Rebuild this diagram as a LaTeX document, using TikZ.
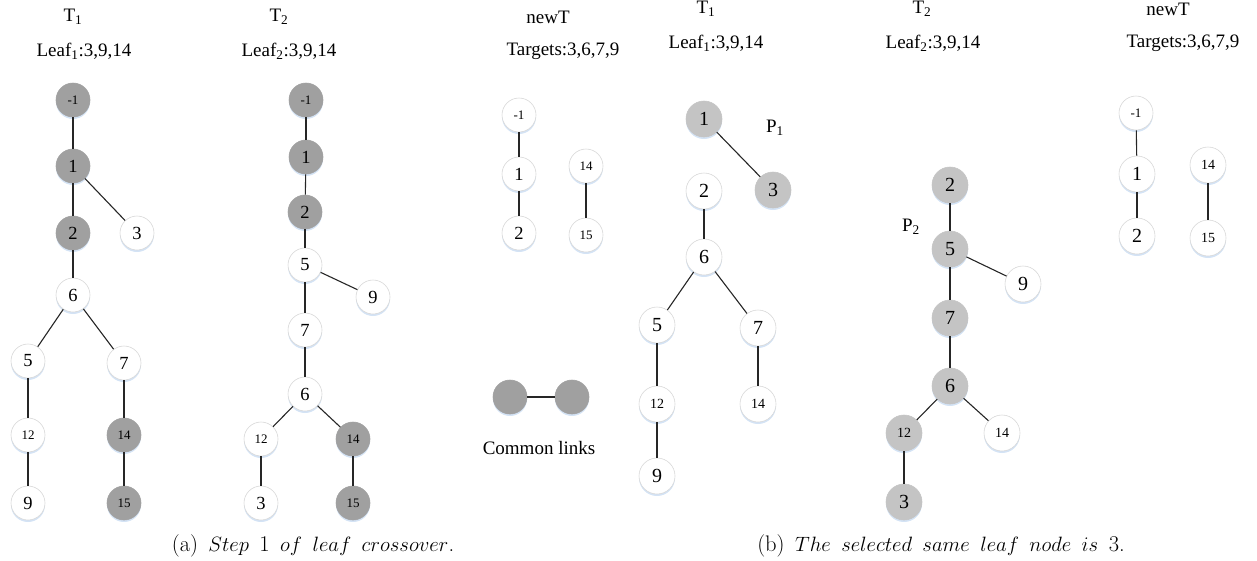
\documentclass[tikz,border=0pt]{standalone}
\usepackage{fontspec}
\newfontfamily\tnr{Liberation Serif}
\usetikzlibrary{shadows}
\definecolor{darknode}{HTML}{A0A0A0}
\definecolor{lightnode}{HTML}{C4C4C4}
\definecolor{ringgray}{HTML}{D8D8D8}
\definecolor{glow}{HTML}{C9DCF2}
\newcommand\wsp{\hspace{10.4pt}}
\tikzset{
  vert/.style={circle, inner sep=0pt, minimum size=34pt, draw=ringgray, line width=0.6pt,
    fill=white, font=\tnr\fontsize{18.5}{18.5}\selectfont,
    drop shadow={shadow xshift=0pt, shadow yshift=-2pt, fill=glow, opacity=0.8}},
  small/.style={font=\tnr\fontsize{13}{13}\selectfont},
  big/.style={minimum size=36pt, font=\tnr\fontsize{20}{20}\selectfont},
  bigsmall/.style={minimum size=36pt, font=\tnr\fontsize{14}{14}\selectfont},
  dark/.style={fill=darknode, draw=darknode},
  light/.style={fill=lightnode, draw=lightnode},
  lbl/.style={font=\tnr\fontsize{19}{19}\selectfont, inner sep=0pt},
  captext/.style={font=\fontsize{22.5}{22.5}\selectfont, inner sep=0pt, anchor=base},
  link/.style={line width=1.1pt, black!85}
}
\begin{document}
\begin{tikzpicture}[x=1pt, y=-1pt]
\useasboundingbox (0,0) rectangle (1257,560);

% ---------- (a) tree T1 ----------
\node[lbl] (aT1) at (73,17) {T\textsubscript{1}};
\node[lbl] (aL1) at (84,51) {Leaf\textsubscript{1}:3,9,14};
\node[vert,dark,small] (a1m) at (73,100) {-1};
\node[vert,dark] (a1a) at (73,166) {1};
\node[vert,dark] (a1b) at (73,233) {2};
\node[vert] (a1c) at (137,233) {3};
\node[vert] (a1f) at (73,295) {6};
\node[vert] (a1e) at (28,361) {5};
\node[vert] (a1g) at (124,363) {7};
\node[vert,small] (a1l) at (28,435) {12};
\node[vert,dark,small] (a1n) at (124,435) {14};
\node[vert] (a1i) at (28,503) {9};
\node[vert,dark,small] (a1o) at (124,503) {15};
\draw[link] (a1m) -- (a1a);
\draw[link] (a1a) -- (a1b);
\draw[link] (a1a) -- (a1c);
\draw[link] (a1b) -- (a1f);
\draw[link] (a1f) -- (a1e);
\draw[link] (a1f) -- (a1g);
\draw[link] (a1e) -- (a1l);
\draw[link] (a1l) -- (a1i);
\draw[link] (a1g) -- (a1n);
\draw[link] (a1n) -- (a1o);

% ---------- (a) tree T2 ----------
\node[lbl] (aT2) at (279,17) {T\textsubscript{2}};
\node[lbl] (aL2) at (289,51) {Leaf\textsubscript{2}:3,9,14};
\node[vert,dark,small] (a2m) at (306,100) {-1};
\node[vert,dark] (a2a) at (306,157) {1};
\node[vert,dark] (a2b) at (305,212) {2};
\node[vert] (a2e) at (305,265) {5};
\node[vert] (a2i) at (373,297) {9};
\node[vert] (a2g) at (305,330) {7};
\node[vert] (a2f) at (305,394) {6};
\node[vert,small] (a2l) at (261,439) {12};
\node[vert,dark,small] (a2n) at (353,439) {14};
\node[vert] (a2c) at (261,503) {3};
\node[vert,dark,small] (a2o) at (353,503) {15};
\draw[link] (a2m) -- (a2a);
\draw[link] (a2a) -- (a2b);
\draw[link] (a2b) -- (a2e);
\draw[link] (a2e) -- (a2i);
\draw[link] (a2e) -- (a2g);
\draw[link] (a2g) -- (a2f);
\draw[link] (a2f) -- (a2l);
\draw[link] (a2f) -- (a2n);
\draw[link] (a2l) -- (a2c);
\draw[link] (a2n) -- (a2o);

% ---------- (a) newT ----------
\node[lbl] (anT) at (548,17) {newT};
\node[lbl] (aTg) at (563,51) {Targets:3,6,7,9};
\node[vert,small] (anm) at (519,115) {-1};
\node[vert] (ana) at (519,174) {1};
\node[vert] (anb) at (519,233) {2};
\node[vert,small] (ann) at (586,166) {14};
\node[vert,small] (ano) at (586,235) {15};
\draw[link] (anm) -- (ana);
\draw[link] (ana) -- (anb);
\draw[link] (ann) -- (ano);

% legend
\node[vert,dark] (lgA) at (510,397) {};
\node[vert,dark] (lgB) at (572,397) {};
\draw[link] (lgA) -- (lgB);
\node[lbl] (lgT) at (539,448) {Common links};

\node[captext] (capA) at (313,551) {(a)\wsp$Step$\wsp1\wsp$of$\wsp$leaf$\wsp$crossover$.};

% ---------- (b) tree T1 ----------
\node[lbl] (bT1) at (706,9) {T\textsubscript{1}};
\node[lbl] (bL1) at (716,43) {Leaf\textsubscript{1}:3,9,14};
\node[vert,big,light] (b1a) at (704,119) {1};
\node[vert,big,light] (b1c) at (773,190) {3};
\node[lbl] (bP1) at (775,128) {P\textsubscript{1}};
\node[vert,big] (b1b) at (704,191) {2};
\node[vert,big] (b1f) at (704,257) {6};
\node[vert,big] (b1e) at (657,325) {5};
\node[vert,big] (b1g) at (758,328) {7};
\node[vert,bigsmall] (b1l) at (657,404) {12};
\node[vert,bigsmall] (b1n) at (758,404) {14};
\node[vert,big] (b1i) at (657,476) {9};
\draw[link] (b1a) -- (b1c);
\draw[link] (b1b) -- (b1f);
\draw[link] (b1f) -- (b1e);
\draw[link] (b1f) -- (b1g);
\draw[link] (b1e) -- (b1l);
\draw[link] (b1l) -- (b1i);
\draw[link] (b1g) -- (b1n);

% ---------- (b) tree T2 ----------
\node[lbl] (bT2) at (922,9) {T\textsubscript{2}};
\node[lbl] (bL2) at (933,43) {Leaf\textsubscript{2}:3,9,14};
\node[vert,big,light] (b2b) at (950,185) {2};
\node[lbl] (bP2) at (911,227) {P\textsubscript{2}};
\node[vert,big,light] (b2e) at (950,249) {5};
\node[vert,big] (b2i) at (1023,284) {9};
\node[vert,big,light] (b2g) at (950,318) {7};
\node[vert,big,light] (b2f) at (950,386) {6};
\node[vert,bigsmall,light] (b2l) at (904,433) {12};
\node[vert,bigsmall] (b2n) at (1002,433) {14};
\node[vert,big,light] (b2c) at (904,502) {3};
\draw[link] (b2b) -- (b2e);
\draw[link] (b2e) -- (b2i);
\draw[link] (b2e) -- (b2g);
\draw[link] (b2g) -- (b2f);
\draw[link] (b2f) -- (b2l);
\draw[link] (b2f) -- (b2n);
\draw[link] (b2l) -- (b2c);

% ---------- (b) newT ----------
\node[lbl] (bnT) at (1168,9) {newT};
\node[lbl] (bTg) at (1183,43) {Targets:3,6,7,9};
\node[vert,small] (bnm) at (1136,113) {-1};
\node[vert,big] (bna) at (1137,174) {1};
\node[vert,big] (bnb) at (1137,236) {2};
\node[vert,bigsmall] (bnn) at (1208,165) {14};
\node[vert,bigsmall] (bno) at (1208,238) {15};
\draw[link] (bnm) -- (bna);
\draw[link] (bna) -- (bnb);
\draw[link] (bnn) -- (bno);

\node[captext] (capB) at (941,551) {(b)\wsp$The$\wsp$selected$\wsp$same$\wsp$leaf$\wsp$node$\wsp$is$\wsp3.};
\end{tikzpicture}
\end{document}
